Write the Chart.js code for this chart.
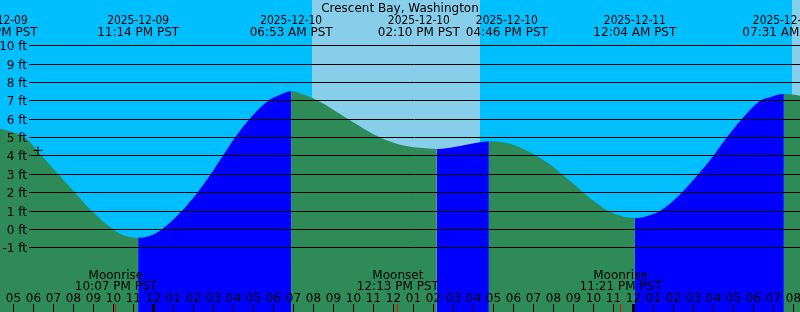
<!DOCTYPE html>
<html><head><meta charset="utf-8">
<style>html,body{margin:0;padding:0;background:#00BFFF;overflow:hidden}canvas{display:block}</style>
<script src="https://cdn.jsdelivr.net/npm/chart.js@4.4.1/dist/chart.umd.min.js"></script>
</head><body>
<canvas id="c" width="800" height="312"></canvas>
<script>
const title = 'Crescent Bay, Washington';
// time axis: hours since 2025-12-09 00:00 PST
const tideHours = [16.325, 16.95, 17.575, 18.425, 19.24, 20.075, 20.91, 21.99, 22.575, 23.233, 23.825, 24.41, 25.41, 26.19, 26.86, 27.46, 28.075, 28.79, 29.74, 30.325, 30.883, 31.575, 32.24, 33.74, 35.325, 36.49, 37.325, 38.167, 39.325, 40.325, 40.767, 41.825, 42.99, 43.99, 44.41, 44.99, 45.49, 46.325, 46.74, 47.575, 48.067, 48.725, 49.325, 50.41, 51.24, 51.99, 52.66, 53.41, 54.325, 54.825, 55.517, 56.075, 56.325];
const tideFeet = [5.5, 5.3, 5.0, 4.0, 3.0, 2.0, 1.0, 0.0, -0.35, -0.46, -0.35, 0.0, 1.0, 2.0, 3.0, 4.0, 5.0, 6.0, 7.0, 7.33, 7.52, 7.32, 7.0, 6.0, 5.0, 4.57, 4.44, 4.38, 4.54, 4.74, 4.8, 4.67, 4.11, 3.4, 3.0, 2.5, 2.0, 1.3, 1.0, 0.68, 0.62, 0.75, 1.0, 2.0, 3.0, 4.0, 5.0, 6.0, 7.0, 7.2, 7.37, 7.33, 7.28];
const eventHours = [16.16, 23.233, 30.883, 38.167, 40.767, 48.067, 55.517];
const eventDates = ['2025-12-09', '2025-12-09', '2025-12-10', '2025-12-10', '2025-12-10', '2025-12-11', '2025-12-11'];
const eventTimes = ['04:10 PM PST', '11:14 PM PST', '06:53 AM PST', '02:10 PM PST', '04:46 PM PST', '12:04 AM PST', '07:31 AM PST'];
const moonHours = [22.117, 36.217, 47.35];
const moonKinds = ['Moonrise', 'Moonset', 'Moonrise'];
const moonTimes = ['10:07 PM PST', '12:13 PM PST', '11:21 PM PST'];
const sunriseHours = [31.917, 55.917];
const sunsetHours = [40.317, 64.3];
const yTickValues = [-1, 0, 1, 2, 3, 4, 5, 6, 7, 8, 9, 10];
const yTickLabels = ['-1 ft', '0 ft', '1 ft', '2 ft', '3 ft', '4 ft', '5 ft', '6 ft', '7 ft', '8 ft', '9 ft', '10 ft'];
const hourTickStart = 17;
const hourLabels = ['05','06','07','08','09','10','11','12','01','02','03','04','05','06','07','08','09','10','11','12','01','02','03','04','05','06','07','08','09','10','11','12','01','02','03','04','05','06','07','08'];
const midnightHours = [24, 48];
const nowHour = 18.22, nowFeet = 4.3;

const NIGHT = '#00BFFF', DAY = '#87CEEB', EBB = '#2E8B57', FLOOD = '#0000FF';
const FONT = '12px "DejaVu Sans"';

const bgPlugin = {
  id: 'bg',
  beforeDraw(chart) {
    const c = chart.ctx, xs = chart.scales.x;
    c.save();
    c.fillStyle = NIGHT;
    c.fillRect(0, 0, chart.width, chart.height);
    c.fillStyle = DAY;
    for (let i = 0; i < sunriseHours.length; i++) {
      const a = Math.round(xs.getPixelForValue(sunriseHours[i]));
      const b = Math.round(xs.getPixelForValue(Math.min(sunsetHours[i], xs.max + 1)));
      c.fillRect(a, 0, b - a, chart.height);
    }
    c.restore();
  }
};

const overlayPlugin = {
  id: 'overlay',
  afterDatasetsDraw(chart) {
    const c = chart.ctx, xs = chart.scales.x, ys = chart.scales.y;
    c.save();
    c.fillStyle = '#000';
    c.strokeStyle = '#000';
    c.lineWidth = 1;
    c.font = FONT;
    c.textAlign = 'right';
    c.textBaseline = 'alphabetic';
    yTickValues.forEach((v, i) => {
      const r = Math.floor(ys.getPixelForValue(v));
      c.beginPath();
      c.moveTo(29, r + 0.5);
      c.lineTo(800, r + 0.5);
      c.stroke();
      c.fillText(yTickLabels[i], 27, r + 5);
    });
    c.textAlign = 'center';
    c.fillText(title, 400, 11.5);
    const ex = eventHours.map(h => xs.getPixelForValue(h));
    const minSep = 88;
    for (let i = 0; i < ex.length - 1; i++) {
      const d = ex[i + 1] - ex[i];
      if (d < minSep) { const s = (minSep - d) / 2; ex[i] -= s; ex[i + 1] += s; }
    }
    ex.forEach((x, i) => {
      c.fillText(eventDates[i], x, 23.5, 62);
      c.fillText(eventTimes[i], x, 35.5);
    });
    moonHours.forEach((h, i) => {
      const x = xs.getPixelForValue(h);
      c.fillText(moonKinds[i], x, 278.5);
      c.fillText(moonTimes[i], x, 290);
    });
    hourLabels.forEach((lab, i) => {
      const h = hourTickStart + i;
      const x = Math.floor(xs.getPixelForValue(h));
      c.fillText(lab, x + 0.5, 301.5);
      if (midnightHours.includes(h)) {
        c.fillRect(x - 1, 304, 3, 8);
      } else {
        c.fillRect(x, 304, 1, 8);
      }
    });
    c.fillStyle = '#FF0000';
    moonHours.forEach(h => {
      const x = Math.floor(xs.getPixelForValue(h));
      c.fillRect(x, 304, 1, 8);
    });
    c.restore();
  }
};

const pts = tideHours.map((h, i) => ({ x: h, y: tideFeet[i] }));
new Chart(document.getElementById('c').getContext('2d'), {
  type: 'line',
  data: {
    datasets: [
      {
        data: pts,
        order: 2,
        fill: 'start',
        borderWidth: 0,
        borderColor: 'rgba(0,0,0,0)',
        backgroundColor: EBB,
        pointRadius: 0,
        pointHitRadius: 0,
        cubicInterpolationMode: 'monotone',
        segment: { backgroundColor: s => (s.p1.parsed.y > s.p0.parsed.y ? FLOOD : EBB) }
      },
      {
        data: [{ x: nowHour, y: nowFeet }],
        order: 1,
        showLine: false,
        fill: false,
        pointStyle: 'cross',
        pointRadius: 4.5,
        pointHitRadius: 0,
        pointBorderColor: '#000',
        pointBorderWidth: 1,
        borderColor: '#000'
      }
    ]
  },
  options: {
    responsive: false,
    animation: false,
    devicePixelRatio: 1,
    events: [],
    clip: false,
    layout: { padding: 0, autoPadding: false },
    plugins: { legend: { display: false }, tooltip: { enabled: false }, title: { display: false } },
    scales: {
      x: { type: 'linear', min: 16.325, max: 56.325, display: false },
      y: { type: 'linear', min: -4.498, max: 12.492, display: false }
    }
  },
  plugins: [bgPlugin, overlayPlugin]
});
</script>
</body></html>
